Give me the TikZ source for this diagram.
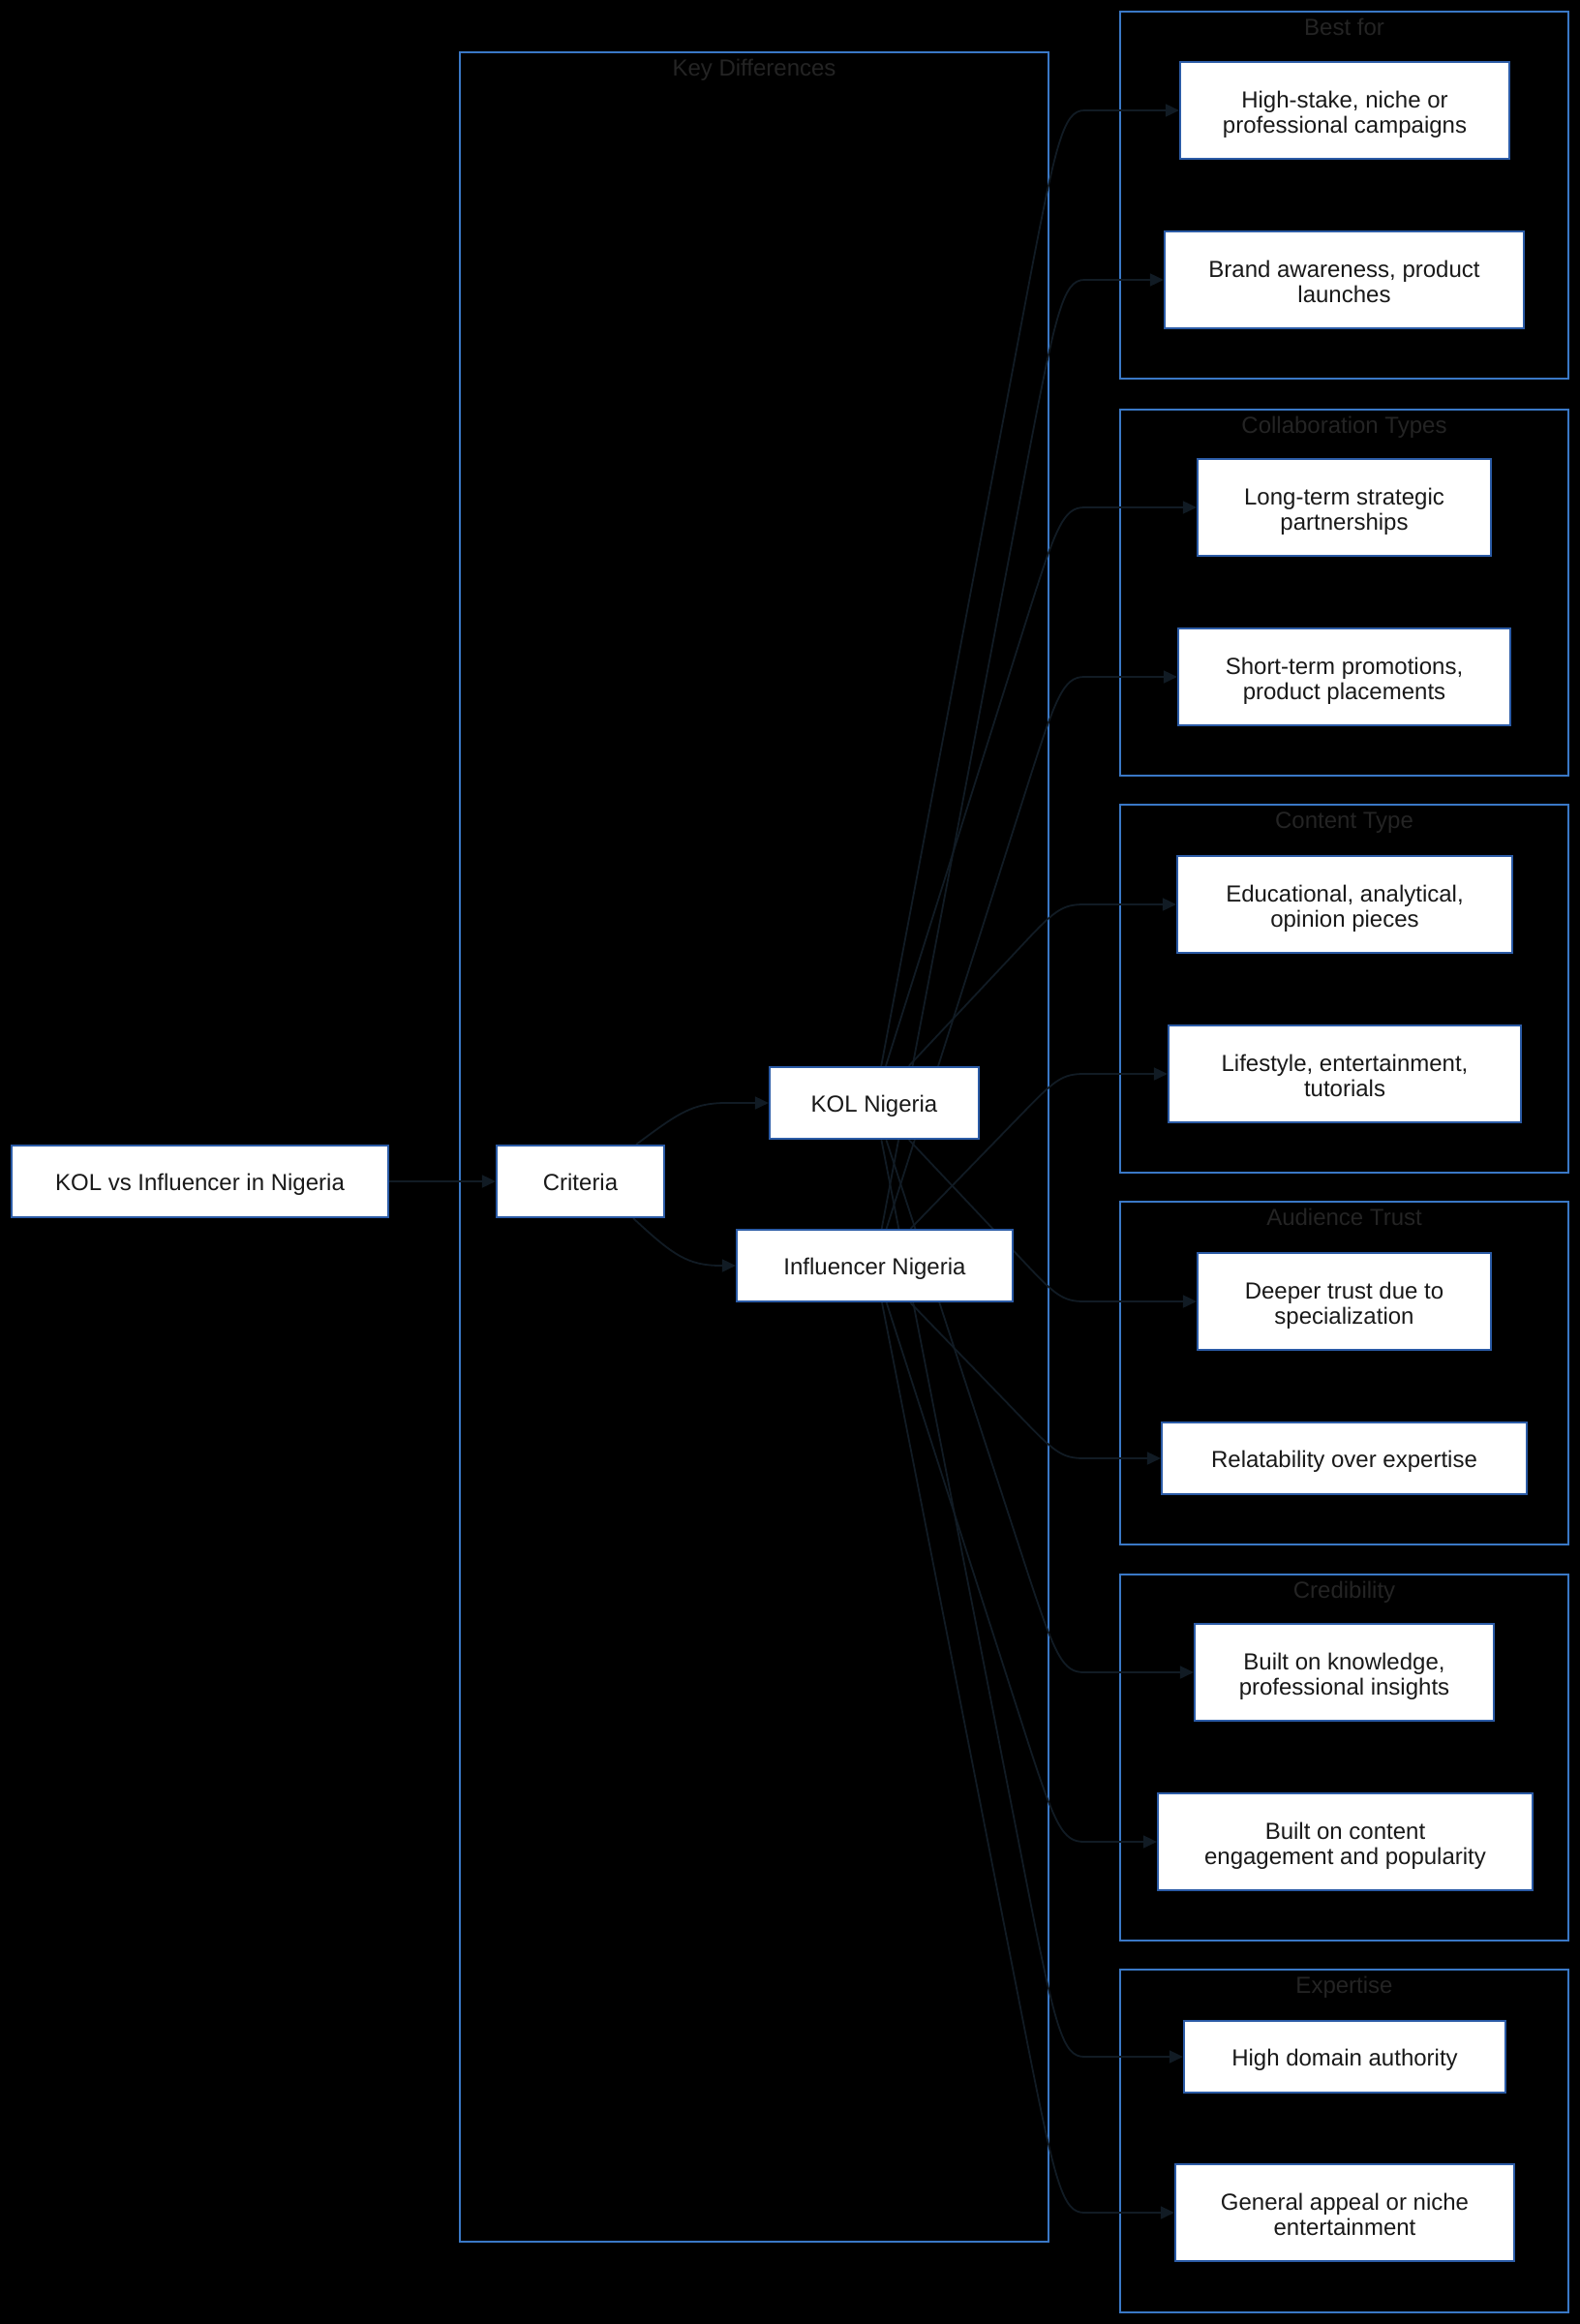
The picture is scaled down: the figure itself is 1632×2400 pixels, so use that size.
\documentclass[tikz,border=0pt]{standalone}
\usepackage{fontspec}
\setmainfont{Liberation Sans}
\usepackage{tikz}
\usetikzlibrary{arrows.meta,backgrounds,calc}
\definecolor{nodeblue}{HTML}{2B5BA6}
\definecolor{grpblue}{HTML}{3A78C6}
\definecolor{edgecol}{HTML}{111B24}
\definecolor{titlecol}{HTML}{242424}

\begin{document}
\begin{tikzpicture}[x=1pt,y=-1pt,
  box/.style={draw=nodeblue,fill=white,line width=2.2pt,align=center,inner sep=0pt,
    minimum height=100pt,text height=46.7pt,text depth=0pt,text=black!90,
    font=\fontsize{24}{25.5}\selectfont},
  onebox/.style={box,minimum height=74pt,text height=19pt},
  group/.style={draw=grpblue,line width=2.6pt},
  grouptitle/.style={text=titlecol,inner sep=0pt,text height=17pt,text depth=0pt,
    font=\fontsize{24}{26}\selectfont},
  edge/.style={draw=edgecol,line width=1.8pt,-{Triangle[length=14pt,width=13pt]}}]
\useasboundingbox (0,0) rectangle (1632,2400);

\node[onebox,minimum width=389pt] (root) at (206.5,1220) {KOL vs Influencer in Nigeria};
\node[onebox,minimum width=173pt] (crit) at (599.5,1220) {Criteria};
\node[onebox,minimum width=216pt] (kol) at (903,1139) {KOL Nigeria};
\node[onebox,minimum width=285pt] (inf) at (903.5,1307) {Influencer Nigeria};

\node[box,minimum width=340pt] (hs) at (1389,114) {High-stake, niche or\\professional campaigns};
\node[box,minimum width=371pt] (ba) at (1388.5,289) {Brand awareness, product\\launches};
\node[box,minimum width=303pt] (lt) at (1388.5,524) {Long-term strategic\\partnerships};
\node[box,minimum width=343pt] (st) at (1388.5,699) {Short-term promotions,\\product placements};
\node[box,minimum width=346pt] (ed) at (1389,934) {Educational, analytical,\\opinion pieces};
\node[box,minimum width=364pt] (ls) at (1389,1109) {Lifestyle, entertainment,\\tutorials};
\node[box,minimum width=303pt] (dt) at (1388.5,1344) {Deeper trust due to\\specialization};
\node[onebox,minimum width=377pt] (rl) at (1388.5,1506) {Relatability over expertise};
\node[box,minimum width=309pt] (bk) at (1388.5,1727) {Built on knowledge,\\professional insights};
\node[box,minimum width=387pt] (bc) at (1389.5,1902) {Built on content\\engagement and popularity};
\node[onebox,minimum width=332pt] (hd) at (1389,2124) {High domain authority};
\node[box,minimum width=350pt] (ga) at (1389,2285) {General appeal or niche\\entertainment};

\begin{pgfonlayer}{background}
\fill[black] (0,0) rectangle (1632,2400);
\draw[group] (475,54) rectangle (1083,2315);
\node[grouptitle] (tkey) at (779,70) {Key Differences};
\draw[group] (1157,12) rectangle (1620,391);
\node[grouptitle] (tbest) at (1388.5,28) {Best for};
\draw[group] (1157,423) rectangle (1620,801);
\node[grouptitle] (tcollab) at (1388.5,439) {Collaboration Types};
\draw[group] (1157,831) rectangle (1620,1211);
\node[grouptitle] (tcontent) at (1388.5,847) {Content Type};
\draw[group] (1157,1241) rectangle (1620,1595);
\node[grouptitle] (ttrust) at (1388.5,1257) {Audience Trust};
\draw[group] (1157,1626) rectangle (1620,2004);
\node[grouptitle] (tcred) at (1388.5,1642) {Credibility};
\draw[group] (1157,2034) rectangle (1620,2388);
\node[grouptitle] (texp) at (1388.5,2050) {Expertise};

\draw[edge] (root) -- (crit);
\draw[edge] ([xshift=-30pt]crit.north east) .. controls (700,1150) and (715,1139) .. (750,1139) -- (kol);
\draw[edge] ([xshift=-33pt]crit.south east) .. controls (695,1296) and (710,1307) .. (745,1307) -- (inf);
\foreach \s/\t/\yt/\yc in {kol/hs/114/186, inf/ba/289/361, kol/lt/524/568, inf/st/699/743,
    kol/ed/934/947, inf/ls/1109/1122, kol/dt/1344/1330, inf/rl/1506/1493,
    kol/bk/1727/1690, inf/bc/1902/1865, kol/hd/2124/2060, inf/ga/2285/2221}
  \draw[edge] (\s) -- ($(\s.center)!.87!(1083,\yc)$)
    .. controls ($(\s.center)!1.04!(1083,\yc)$) and (1098,\yt) .. (1120,\yt) -- (\t);
\end{pgfonlayer}
\end{tikzpicture}
\end{document}
